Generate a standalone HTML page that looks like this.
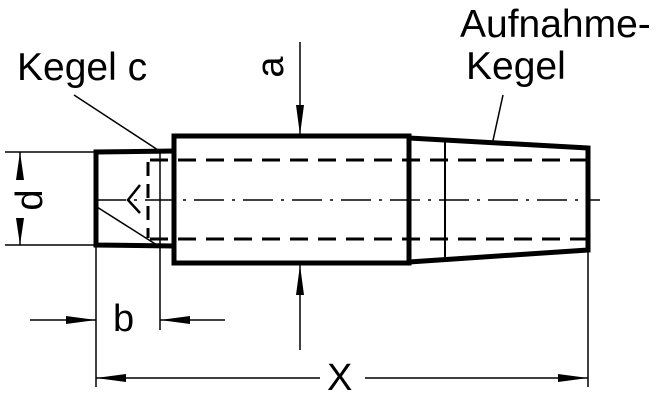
<!DOCTYPE html>
<html><head><style>
html,body{margin:0;padding:0;background:#fff;}
svg{display:block;}
text{font-family:"Liberation Sans",sans-serif;fill:#000;}
</style></head><body>
<svg width="671" height="400" viewBox="0 0 671 400" xmlns="http://www.w3.org/2000/svg">
<g stroke="#000" fill="none">
<rect x="174" y="136" width="235" height="127" stroke-width="5"/>
<path d="M409 138 L588 148 L588 250 L409 262" stroke-width="5"/>
<line x1="445" y1="142" x2="445" y2="257" stroke-width="2"/>
<path d="M174 151 L96 152 L96 245 L174 246" stroke-width="5"/>
<line x1="150" y1="160" x2="588" y2="160" stroke-width="3" stroke-dasharray="18,10"/>
<line x1="150" y1="239" x2="588" y2="239" stroke-width="3" stroke-dasharray="18,10"/>
<line x1="148" y1="162" x2="148" y2="238" stroke-width="3" stroke-dasharray="14,8"/>
<path d="M140 185 L128 200 L140 213" stroke-width="2.5"/>
<line x1="96" y1="200" x2="600" y2="200" stroke-width="1.5" stroke-dasharray="30,8,3,8"/>
<line x1="74" y1="95" x2="158" y2="150" stroke-width="1.5"/>
<line x1="97" y1="207" x2="160" y2="247" stroke-width="1.5"/>
<line x1="160" y1="150" x2="160" y2="330" stroke-width="1.5"/>
<line x1="503" y1="95" x2="492" y2="145" stroke-width="1.5"/>
<line x1="5" y1="152" x2="96" y2="152" stroke-width="1.5"/>
<line x1="5" y1="245" x2="96" y2="245" stroke-width="1.5"/>
<line x1="20" y1="152" x2="20" y2="180" stroke-width="1.5"/>
<line x1="20" y1="218" x2="20" y2="245" stroke-width="1.5"/>
<line x1="96" y1="245" x2="96" y2="387" stroke-width="1.5"/>
<line x1="588" y1="250" x2="588" y2="387" stroke-width="1.5"/>
<line x1="30" y1="320" x2="96" y2="320" stroke-width="1.5"/>
<line x1="160" y1="320" x2="225" y2="320" stroke-width="1.5"/>
<line x1="96" y1="378" x2="320" y2="378" stroke-width="1.5"/>
<line x1="365" y1="378" x2="588" y2="378" stroke-width="1.5"/>
<line x1="300" y1="42" x2="300" y2="135" stroke-width="1.5"/>
<line x1="300" y1="265" x2="300" y2="350" stroke-width="1.5"/>
</g>
<g fill="#000">
<polygon points="20,152 16,180 24,180"/>
<polygon points="20,245 16,218 24,218"/>
<polygon points="96,320 66,316 66,324"/>
<polygon points="160,320 190,316 190,324"/>
<polygon points="96,378 126,374 126,382"/>
<polygon points="588,378 558,374 558,382"/>
<polygon points="300,135 296,105 304,105"/>
<polygon points="300,265 296,295 304,295"/>
</g>
<text x="17" y="80" font-size="39">Kegel c</text>
<text x="460" y="37" font-size="39">Aufnahme-</text>
<text x="466" y="79" font-size="39">Kegel</text>
<text x="113" y="331" font-size="38">b</text>
<text x="327" y="390" font-size="38">X</text>
<text transform="translate(42,200) rotate(-90)" text-anchor="middle" font-size="38">d</text>
<text transform="translate(283,67) rotate(-90)" text-anchor="middle" font-size="38">a</text>
</svg>
</body></html>
